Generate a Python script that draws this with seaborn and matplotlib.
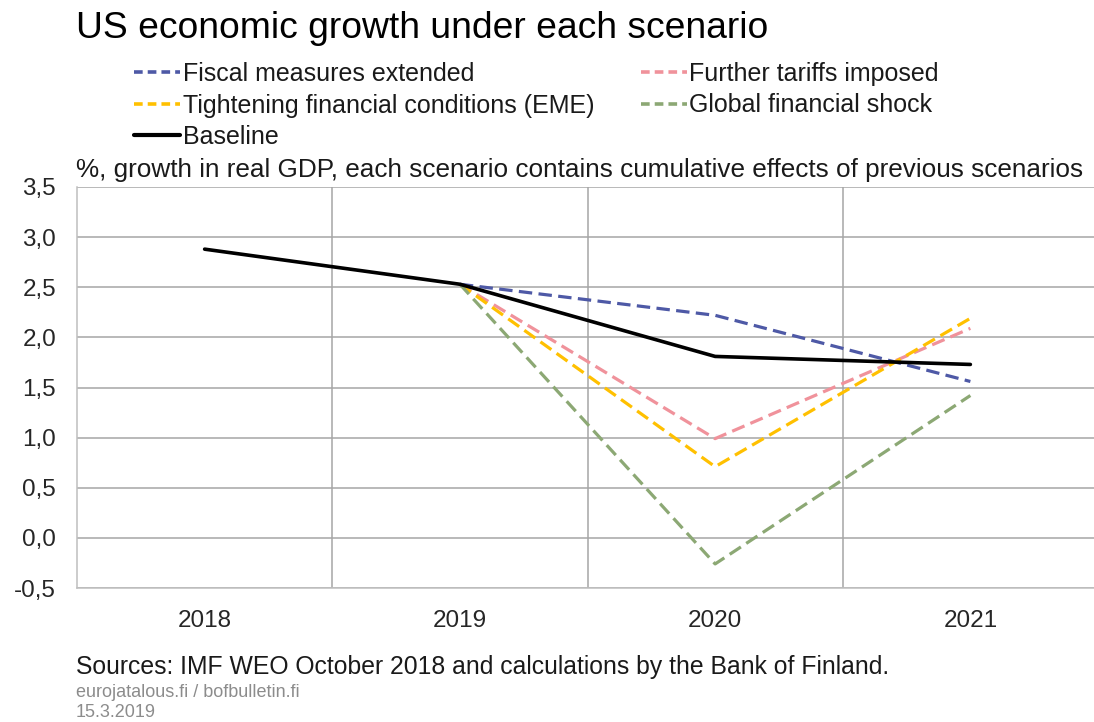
import matplotlib
matplotlib.use("Agg")
import matplotlib.pyplot as plt
import seaborn as sns
import pandas as pd
import numpy as np
from matplotlib.ticker import FixedLocator, FuncFormatter
from matplotlib.lines import Line2D

years = [2018, 2019, 2020, 2021]
baseline = [2.88, 2.53, 1.81, 1.73]
scen_years = [2019, 2020, 2021]
fiscal = [2.53, 2.22, 1.56]
tariffs = [2.53, 0.99, 2.09]
tightening = [2.53, 0.71, 2.19]
global_shock = [2.53, -0.26, 1.42]

names = ["Fiscal measures extended", "Further tariffs imposed",
         "Tightening financial conditions (EME)", "Global financial shock"]
series = [fiscal, tariffs, tightening, global_shock]
colors = {"Fiscal measures extended": "#4E59A6",
          "Further tariffs imposed": "#F0929B",
          "Tightening financial conditions (EME)": "#FFC000",
          "Global financial shock": "#8CA874",
          "Baseline": "#000000"}

rows = []
for n, s in zip(names, series):
    for y, v in zip(scen_years, s):
        rows.append({"year": y, "value": v, "scenario": n})
df = pd.DataFrame(rows)
dfb = pd.DataFrame({"year": years, "value": baseline, "scenario": "Baseline"})

sns.set_theme(style="white")
plt.rcParams['font.family'] = ['Liberation Sans', 'DejaVu Sans']

fig = plt.figure(figsize=(10.94, 7.22), dpi=100)
ax = fig.add_axes([77/1094, 1 - 588/722, (1098 - 77)/1094, (588 - 187)/722])

sns.lineplot(data=df, x="year", y="value", hue="scenario", hue_order=names,
             palette=colors, ax=ax, linewidth=2.3, legend=False, zorder=3)
for line in ax.get_lines():
    line.set_dashes([4.2, 2])
sns.lineplot(data=dfb, x="year", y="value", color="black", linewidth=2.6,
             ax=ax, legend=False, zorder=4)

ax.set_xlim(2017.5, 2021.5)
ax.set_ylim(-0.5, 3.5)
ax.xaxis.set_major_locator(FixedLocator(years))
ax.xaxis.set_minor_locator(FixedLocator([2018.5, 2019.5, 2020.5]))
ax.set_xticklabels([str(y) for y in years])
ax.yaxis.set_major_locator(FixedLocator(np.arange(-0.5, 3.51, 0.5)))
ax.yaxis.set_major_formatter(FuncFormatter(lambda v, p: f"{v:.1f}".replace(".", ",")))
ax.grid(False)
ax.grid(axis="y", which="major", color="#A6A6A6", linewidth=1.1)
ax.grid(axis="x", which="minor", color="#A6A6A6", linewidth=1.1)
ax.set_xlabel("")
ax.set_ylabel("")
for sp in ["top", "right"]:
    ax.spines[sp].set_visible(False)
for sp in ["left", "bottom"]:
    ax.spines[sp].set_color("#BFBFBF")
    ax.spines[sp].set_linewidth(1.1)
ax.tick_params(axis="both", which="both", length=0, labelsize=17.5, colors="#262626")
ax.tick_params(axis="x", pad=16)
ax.tick_params(axis="y", pad=15)

# legend
order = ["Fiscal measures extended", "Tightening financial conditions (EME)", "Baseline",
         "Further tariffs imposed", "Global financial shock"]
handles = []
for n in order:
    if n == "Baseline":
        handles.append(Line2D([], [], color="black", linewidth=3.0))
    else:
        handles.append(Line2D([], [], color=colors[n], linewidth=2.6, dashes=[2.4, 1.4]))
fig.legend(handles, order, loc="upper left", bbox_to_anchor=(134/1094, 1 - 62/722),
           ncol=2, frameon=False, fontsize=18, handlelength=1.85, handletextpad=0.1,
           labelspacing=0.3, columnspacing=1.85, borderpad=0, borderaxespad=0,
           labelcolor="#1a1a1a")

fig.text(76/1094, 1 - 38/722, "US economic growth under each scenario", fontsize=26.8,
         ha="left", va="baseline", color="#000000")
fig.text(76/1094, 1 - 177/722,
         "%, growth in real GDP, each scenario contains cumulative effects of previous scenarios",
         fontsize=18.8, ha="left", va="baseline", color="#1a1a1a")
fig.text(76/1094, 1 - 674/722,
         "Sources: IMF WEO October 2018 and calculations by the Bank of Finland.",
         fontsize=17.8, ha="left", va="baseline", color="#1a1a1a")
fig.text(76/1094, 1 - 697/722, "eurojatalous.fi / bofbulletin.fi", fontsize=13,
         ha="left", va="baseline", color="#8c8c8c")
fig.text(76/1094, 1 - 717/722, "15.3.2019", fontsize=13,
         ha="left", va="baseline", color="#8c8c8c")

fig.savefig("out.png", dpi=100)
